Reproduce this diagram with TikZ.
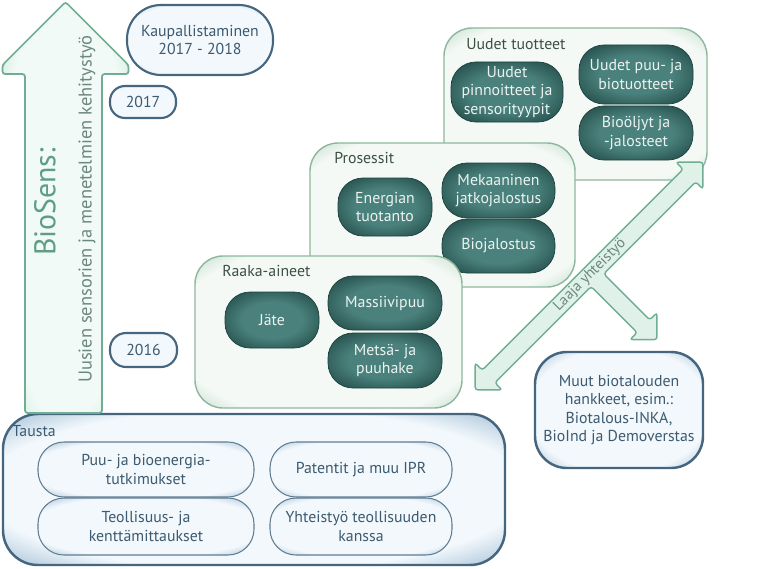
\documentclass[tikz,border=0pt]{standalone}
\usepackage{fontspec}
\setmainfont{PT Sans}
\usetikzlibrary{shapes.misc}

\definecolor{tealdark}{HTML}{1B413E}
\definecolor{teallight}{HTML}{4A817C}
\definecolor{tealtext}{HTML}{ECF3F1}
\definecolor{greenedge}{HTML}{8DB79D}
\definecolor{greenfill}{HTML}{F4F9F5}
\definecolor{greenglow}{HTML}{C2DCCB}
\definecolor{greenlabel}{HTML}{3D5045}
\definecolor{blueedge}{HTML}{45667E}
\definecolor{bluefill}{HTML}{F2F8FC}
\definecolor{blueglow}{HTML}{A3BFD6}
\definecolor{bluetext}{HTML}{3C5A70}
\definecolor{mintedge}{HTML}{70AE93}
\definecolor{mintfill}{HTML}{F1FAF6}
\definecolor{mintglow}{HTML}{C4E5D6}
\definecolor{biosens}{HTML}{5E9E86}
\definecolor{subtext}{HTML}{6C877D}

\pgfdeclareradialshading{tealglow}{\pgfpointorigin}{color(0bp)=(teallight); color(16bp)=(teallight); color(36bp)=(tealdark); color(75bp)=(tealdark)}
\pgfdeclareradialshading{greenglowing}{\pgfpointorigin}{color(0bp)=(greenfill); color(29bp)=(greenfill); color(36bp)=(greenglow); color(75bp)=(greenglow)}
\pgfdeclareradialshading{blueglowing}{\pgfpointorigin}{color(0bp)=(bluefill); color(27bp)=(bluefill); color(36bp)=(blueglow); color(75bp)=(blueglow)}
\pgfdeclareradialshading{mintglowing}{\pgfpointorigin}{color(0bp)=(mintfill); color(26bp)=(mintfill); color(36bp)=(mintglow); color(75bp)=(mintglow)}

\begin{document}
\begin{tikzpicture}[scale=0.2]
            \tikzstyle{every node}+=[inner sep=0pt, align=center, font=\fontsize{9}{10.5}\selectfont]
            \tikzstyle{tealpill}=[rectangle, rounded corners=0.5cm, draw=tealdark, line width=0.4pt, shade, shading=tealglow, text=tealtext]
            \tikzstyle{greenbox}=[rectangle, rounded corners=0.56cm, draw=greenedge, line width=0.8pt, shade, shading=greenglowing]
            \tikzstyle{bluebox}=[rectangle, rounded corners=0.64cm, draw=blueedge, line width=1.4pt, shade, shading=blueglowing, text=bluetext]
            \tikzstyle{bluepill}=[rectangle, rounded corners=0.68cm, draw=blueedge, line width=1.2pt, shade, shading=blueglowing, text=bluetext]
            \tikzstyle{tauspill}=[rectangle, rounded corners=0.52cm, draw=blueedge!85, line width=0.6pt, shade, shading=blueglowing, text=bluetext]
            \tikzstyle{grouplabel}=[anchor=west, text=greenlabel]
            \tikzstyle{blockarrow}=[draw=mintedge, line width=0.8pt, rounded corners=1.5pt]
            \useasboundingbox (0,0) rectangle (77.2,-56.8);
            % uudet tuotteet
            \node [greenbox, minimum width=5.26cm, minimum height=3.04cm] (uudet) at (57.55,-10.4) {};
            \node [grouplabel] (uudetlbl) at (46.6,-4.4) {Uudet tuotteet};
            \node [tealpill, minimum width=2.24cm, minimum height=1.2cm] (pinnoitteet) at (50.7,-9.2) {Uudet\\pinnoitteet ja\\sensorityypit};
            \node [tealpill, minimum width=2.28cm, minimum height=1.18cm] (puutuotteet) at (63.6,-7.45) {Uudet puu- ja\\biotuotteet};
            \node [tealpill, minimum width=2.28cm, minimum height=1.08cm] (bioo) at (63.6,-13.3) {Bioöljyt ja\\-jalosteet};
            % prosessit
            \node [greenbox, minimum width=5.3cm, minimum height=2.88cm] (prosessit) at (44.25,-21.5) {};
            \node [grouplabel] (prosessitlbl) at (33.4,-15.8) {Prosessit};
            \node [tealpill, minimum width=1.88cm, minimum height=1.16cm] (energia) at (38.5,-20.7) {Energian\\tuotanto};
            \node [tealpill, minimum width=2.26cm, minimum height=1.1cm] (mekaaninen) at (49.85,-19.05) {Mekaaninen\\jatkojalostus};
            \node [tealpill, minimum width=2.26cm, minimum height=1.08cm] (biojalostus) at (49.85,-24.6) {Biojalostus};
            % raaka-aineet
            \node [greenbox, minimum width=5.34cm, minimum height=3.04cm] (raaka) at (32.85,-33.2) {};
            \node [grouplabel] (raakalbl) at (22.2,-27.1) {Raaka-aineet};
            \node [tealpill, minimum width=1.88cm, minimum height=1.12cm] (jate) at (27.2,-32.0) {Jäte};
            \node [tealpill, minimum width=2.28cm, minimum height=1.08cm] (massiivipuu) at (38.5,-30.3) {Massiivipuu};
            \node [tealpill, minimum width=2.28cm, minimum height=1.1cm] (hake) at (38.5,-36.05) {Metsä- ja\\puuhake};
            % laaja yhteistyo
            \draw [blockarrow, fill=mintglow!55!white, shift={(58.9,-27.6)}, rotate=45] (-16.1,0) -- (-14.2,1.9) -- (-14.2,0.9) -- (14.2,0.9) -- (14.2,1.9) -- (16.1,0) -- (14.2,-1.9) -- (14.2,-0.9) -- (1.2,-0.9) -- (1.2,-7.4) -- (2.2,-7.4) -- (0.3,-9.3) -- (-1.6,-7.4) -- (-0.6,-7.4) -- (-0.6,-0.9) -- (-14.2,-0.9) -- (-14.2,-1.9) -- cycle;
            \node [rotate=45, text=subtext, font=\fontsize{8.5}{10}\selectfont] (laaja) at (59.0,-27.5) {Laaja yhteistyö};
            \node [bluebox, minimum width=3.36cm, minimum height=2.32cm] (muut) at (61.9,-41.0) {Muut biotalouden\\hankkeet, esim.:\\Biotalous-INKA,\\BioInd ja Demoverstas};
            % tausta
            \node [bluebox, rounded corners=0.7cm, minimum width=10.04cm, minimum height=3.02cm] (tausta) at (25.4,-48.95) {};
            \node [anchor=west, text=bluetext] (taustalbl) at (1.2,-43.1) {Tausta};
            \node [tauspill, minimum width=4.32cm, minimum height=1.1cm] (tutkimukset) at (14.6,-46.95) {Puu- ja bioenergia-\\tutkimukset};
            \node [tauspill, minimum width=3.64cm, minimum height=1.1cm] (patentit) at (36.1,-46.95) {Patentit ja muu IPR};
            \node [tauspill, minimum width=4.32cm, minimum height=1.14cm] (mittaukset) at (14.6,-52.65) {Teollisuus- ja\\kenttämittaukset};
            \node [tauspill, minimum width=3.64cm, minimum height=1.14cm] (yhteistyo) at (36.1,-52.65) {Yhteistyö teollisuuden\\kanssa};
            % biosens
            \draw [blockarrow, line width=1pt, shade, shading=mintglowing] (6.55,-0.2) -- (12.85,-6.5) -- (12.85,-7.4) -- (10.2,-7.4) -- (10.2,-41.3) -- (2.5,-41.3) -- (2.5,-7.4) -- (0.25,-7.4) -- (0.25,-6.5) -- cycle;
            \node [rotate=90, text=biosens, font=\fontsize{17}{20}\selectfont] (biosens) at (4.5,-20.2) {BioSens:};
            \node [rotate=90, text=subtext, font=\fontsize{10.5}{12}\selectfont] (biosub) at (8.7,-20.9) {Uusien sensorien ja menetelmien kehitystyö};
            \node [bluepill, minimum width=2.92cm, minimum height=1.4cm] (kaupallistaminen) at (20.0,-4.0) {Kaupallistaminen\\2017 - 2018};
            \node [bluepill, rounded corners=0.3cm, minimum width=1.32cm, minimum height=0.64cm] (y2017) at (14.3,-10.2) {2017};
            \node [bluepill, rounded corners=0.32cm, minimum width=1.34cm, minimum height=0.68cm] (y2016) at (14.35,-35.0) {2016};
        \end{tikzpicture}
\end{document}
